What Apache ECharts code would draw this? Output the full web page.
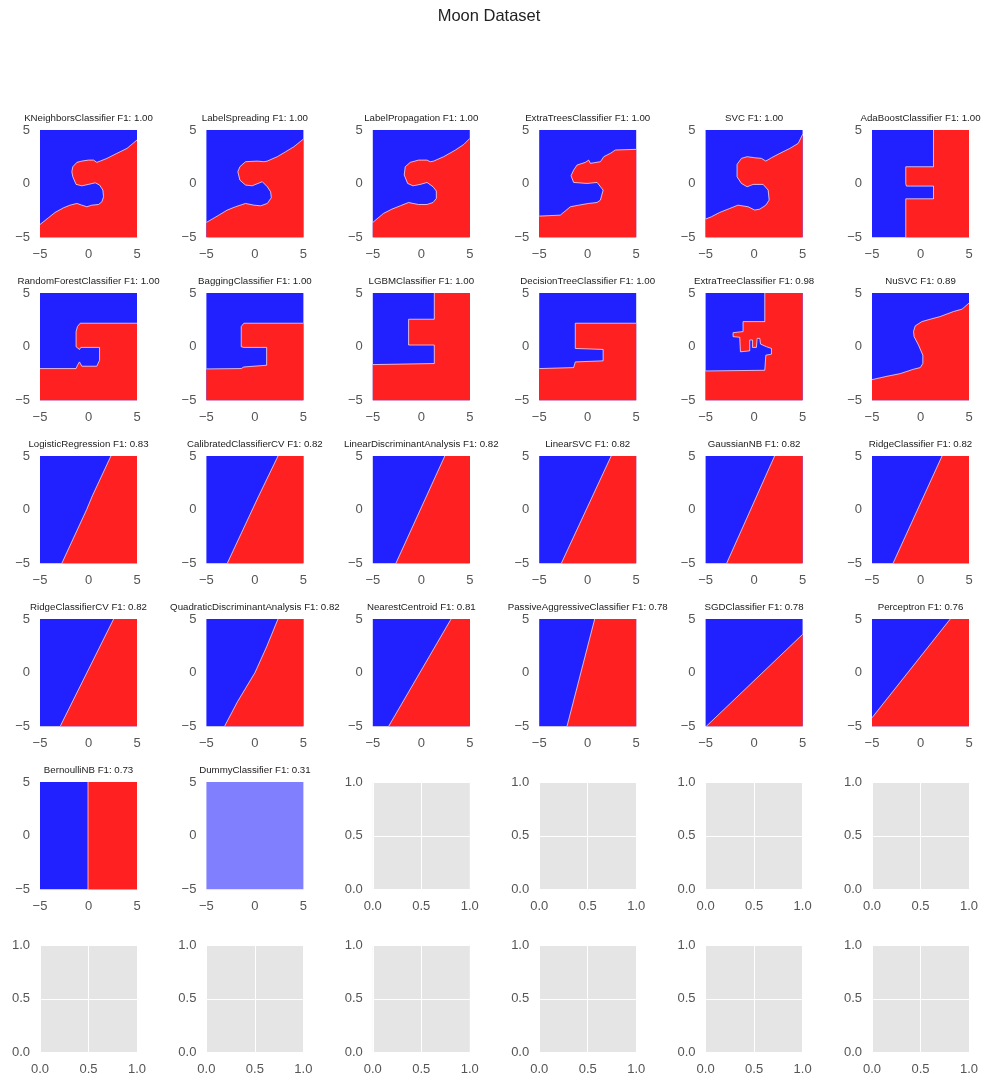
<!DOCTYPE html>
<html>
<head>
<meta charset="utf-8">
<script src="https://cdn.jsdelivr.net/npm/echarts@6/dist/echarts.min.js"></script>
<style>
  html, body { margin: 0; padding: 0; background: #ffffff; }
  #chart { width: 990px; height: 1087px; }
</style>
</head>
<body>
<div id="chart"></div>
<script>
// ---------------- DATA ----------------
const chartTitle = 'Moon Dataset';

const classifierNames = [
  'KNeighborsClassifier', 'LabelSpreading', 'LabelPropagation', 'ExtraTreesClassifier', 'SVC', 'AdaBoostClassifier',
  'RandomForestClassifier', 'BaggingClassifier', 'LGBMClassifier', 'DecisionTreeClassifier', 'ExtraTreeClassifier', 'NuSVC',
  'LogisticRegression', 'CalibratedClassifierCV', 'LinearDiscriminantAnalysis', 'LinearSVC', 'GaussianNB', 'RidgeClassifier',
  'RidgeClassifierCV', 'QuadraticDiscriminantAnalysis', 'NearestCentroid', 'PassiveAggressiveClassifier', 'SGDClassifier', 'Perceptron',
  'BernoulliNB', 'DummyClassifier'
];
const f1Scores = [
  1.00, 1.00, 1.00, 1.00, 1.00, 1.00,
  1.00, 1.00, 1.00, 1.00, 0.98, 0.89,
  0.83, 0.82, 0.82, 0.82, 0.82, 0.82,
  0.82, 0.82, 0.81, 0.78, 0.78, 0.76,
  0.73, 0.31
];

// decision-region axis range & ticks, empty-axis ticks
const regionTicks = [-5, 0, 5];
const emptyTicks = [0, 0.5, 1];

// class-boundary polylines (data coords); red region lies on the boundary's closing side
const bKNN = [[5,4.07],[3.97,3.29],[2.93,2.83],[1.9,2.36],[1.21,2.11],[0.86,1.99],[0.52,2.2],[0,2.2],[-0.69,2.11],[-1.2,1.99],[-1.62,1.58],[-1.72,1.12],[-1.62,0.65],[-1.28,-0.06],[-0.69,-0.19],[0,-0.06],[0.69,0.09],[1.14,-0.12],[1.48,-0.59],[1.55,-1.21],[1.38,-1.68],[1.03,-1.93],[0.34,-1.99],[-0.17,-2.14],[-0.69,-1.99],[-1.2,-1.83],[-1.9,-1.99],[-2.59,-2.24],[-3.45,-2.67],[-4.14,-3.17],[-5,-3.79]];
const bLabelSpreading = [[5,4.16],[4.03,3.45],[3.17,2.98],[2.31,2.52],[1.28,2.11],[0.93,2.05],[0.24,2.11],[-0.97,2.05],[-1.55,1.58],[-1.76,1.12],[-1.55,0.34],[-0.97,-0.12],[-0.28,-0.19],[0.76,0.19],[1.28,-0.28],[1.62,-0.75],[1.69,-1.3],[1.28,-1.83],[0.59,-2.05],[-0.1,-1.99],[-0.97,-1.83],[-2,-2.14],[-2.86,-2.45],[-3.72,-2.92],[-5,-3.6]];
const bLabelPropagation = [[5,4.22],[4.38,3.66],[3.52,3.14],[2.31,2.52],[1.28,2.11],[0.93,2.05],[0.59,2.2],[-0.28,2.2],[-1.14,1.99],[-1.66,1.58],[-1.76,0.81],[-1.41,0.03],[-0.86,-0.19],[-0.1,-0.06],[0.59,0.12],[1.21,-0.28],[1.55,-0.68],[1.55,-1.37],[1.21,-1.74],[0.59,-1.93],[-0.28,-1.93],[-0.86,-1.83],[-1.31,-1.74],[-2.17,-2.05],[-3.03,-2.36],[-3.9,-2.76],[-5,-3.6]];
const bExtraTrees = [[5,3.2],[2.86,3.14],[2.34,2.83],[1.66,2.52],[1.31,2.05],[0.28,1.9],[0.1,2.2],[-0.24,1.99],[-1.1,1.74],[-1.45,1.27],[-1.72,0.75],[-1.45,0.12],[-0.07,0.03],[0.97,0.12],[1.59,-0.59],[1.31,-1.52],[0.97,-1.74],[0.1,-1.83],[-0.93,-1.99],[-1.79,-2.14],[-2.83,-2.92],[-5,-3.01]];
const bSVC = [[5,4.6],[4.55,3.76],[3.69,3.29],[2.66,2.83],[1.79,2.42],[1.21,2.11],[0.76,2.36],[0.07,2.42],[-0.72,2.52],[-1.31,2.36],[-1.76,1.8],[-1.76,0.65],[-1.31,0.03],[-0.72,-0.28],[-0.1,-0.06],[0.93,-0.06],[1.45,-0.59],[1.55,-1.52],[1.21,-1.99],[0.59,-2.36],[0.07,-2.45],[-0.62,-2.14],[-1.66,-1.99],[-2.52,-2.3],[-3.55,-2.67],[-4.41,-3.07],[-5,-3.29]];
const bAdaBoost = [[1.34,5],[1.34,1.58],[-1.52,1.58],[-1.52,0.0],[-1.45,-0.22],[1.34,-0.22],[1.34,-1.4],[-1.52,-1.4],[-1.52,-5]];
const bRandomForest = [[5,2.19],[-0.86,2.19],[-1.14,1.88],[-1.28,1.41],[-1.28,0],[-0.93,-0.25],[-0.79,-0.06],[1.14,-0.06],[1.14,-1.25],[0.86,-1.81],[-0.69,-1.81],[-0.93,-1.41],[-1.14,-1.72],[-1.28,-2.03],[-5,-2.03]];
const bBagging = [[5,2.19],[-1.14,2.19],[-1.41,1.88],[-1.41,0],[-1.14,-0.06],[1.21,-0.06],[1.21,-1.72],[-1.14,-1.88],[-1.41,-2.03],[-5,-2.06]];
const bLGBM = [[1.34,5],[1.34,2.56],[-1.31,2.56],[-1.31,0.16],[1.34,0.16],[1.34,-1.56],[-5,-1.66]];
const bDecisionTree = [[5,2.19],[-1.28,2.19],[-1.28,-0.16],[1.59,-0.25],[1.59,-1.31],[-1.28,-1.41],[-1.45,-1.94],[-5,-2.03]];
const bExtraTree = [[1.1,5],[1.1,2.34],[-1.14,2.34],[-1.14,1.41],[-2.17,1.31],[-2.17,0.94],[-1.48,0.88],[-1.41,-0.47],[-0.45,-0.38],[-0.45,0.63],[-0.17,0.63],[-0.17,-0.06],[0.24,-0.06],[0.31,0.78],[0.59,0.78],[0.66,0.25],[1.28,0],[1.79,-0.16],[1.79,-0.69],[1.21,-0.78],[1.1,-2.19],[-5,-2.25]];
const bNuSVC = [[5,4.06],[4.28,3.5],[3.41,3.28],[2.03,2.81],[1,2.56],[0.14,2.34],[-0.55,1.94],[-0.72,1.41],[-0.66,0.94],[-0.21,0.16],[0.24,-0.78],[0.24,-1.56],[-0.03,-1.94],[-0.72,-2.09],[-2.1,-2.5],[-3.48,-2.75],[-5,-3.06]];
const bLogistic = [[2.31,5],[0.4,1.3],[-0.2,0],[-2.76,-5]];
const bCalibrated = [[2.38,5],[0.35,1.2],[-2.86,-5]];
const bLDA = [[2.42,5],[-2.63,-5]];
const bLinearSVC = [[2.42,5],[-2.73,-5]];
const bGaussianNB = [[2.11,5],[-2.84,-5]];
const bRidge = [[2.22,5],[-2.84,-5]];
const bRidgeCV = [[2.59,5],[-2.93,-5]];
const bQDA = [[2.38,5],[1.2,2.4],[0.0,0],[-1.8,-2.7],[-3.14,-5]];
const bNearestCentroid = [[3.07,5],[-3.38,-5]];
const bPassiveAggressive = [[0.72,5],[-2.14,-5]];
const bSGD = [[5,3.57],[-4.95,-5]];
const bPerceptron = [[3.07,5],[-5,-4.19]];
const bBernoulli = [[-0.05,5],[-0.05,-5]];
const bDummy = [];

const boundaries = [
  bKNN, bLabelSpreading, bLabelPropagation, bExtraTrees, bSVC, bAdaBoost,
  bRandomForest, bBagging, bLGBM, bDecisionTree, bExtraTree, bNuSVC,
  bLogistic, bCalibrated, bLDA, bLinearSVC, bGaussianNB, bRidge,
  bRidgeCV, bQDA, bNearestCentroid, bPassiveAggressive, bSGD, bPerceptron,
  bBernoulli, bDummy
];

// corners closing each red region
const cMoon = [[-5,-5],[5,-5]];
const cRight = [[5,-5],[5,5]];
const cWrap = [[-5,-5],[5,-5],[5,5]];
const cCorner = [[5,-5]];
const redCorners = [
  cMoon, cMoon, cMoon, cMoon, cMoon, cRight,
  cMoon, cMoon, cWrap, cMoon, cWrap, cMoon,
  cRight, cRight, cRight, cRight, cRight, cRight,
  cRight, cRight, cRight, cRight, cCorner, cWrap,
  cRight, []
];
// base (blue-class) colour per panel; Dummy predicts a flat mid value
const baseKind = [
  'b','b','b','b','b','b','b','b','b','b','b','b','b',
  'b','b','b','b','b','b','b','b','b','b','b','b','m'
];

// ---------------- LAYOUT / STYLE ----------------
const COLS = 6, ROWS = 6;
const colLeft0 = 40, colStep = 166.4, rowTop0 = 130, rowStep = 163;
const panelW = 97, panelH = 107.5;
const BLUE = '#2121ff', RED = '#ff2121', MID = '#8080ff';
const FONT = 'Liberation Sans, Arial, sans-serif';

function fmtRegion(v) { return v < 0 ? '\u2212' + Math.abs(v) : String(v); }
function fmtEmpty(v) { return v.toFixed(1); }

const grids = [], xAxes = [], yAxes = [], series = [], titles = [];

titles.push({
  text: chartTitle, left: 489, top: 8, textAlign: 'center', padding: 0,
  textStyle: { fontSize: 16.5, fontWeight: 'normal', color: '#222222', fontFamily: FONT }
});

function makeRender(i) {
  const lo = regionTicks[0], hi = regionTicks[regionTicks.length - 1];
  const full = [[lo, lo], [hi, lo], [hi, hi], [lo, hi]];
  const bnd = boundaries[i];
  const poly = bnd.concat(redCorners[i]);
  const base = baseKind[i] === 'm' ? MID : BLUE;
  return function (params, api) {
    if (params.dataIndex !== 0) return null;
    const children = [{
      type: 'polygon', shape: { points: full.map(p => api.coord(p)) },
      style: { fill: base }
    }];
    if (bnd.length) {
      children.push({ type: 'polygon', shape: { points: poly.map(p => api.coord(p)) }, style: { fill: RED } });
      children.push({
        type: 'polyline', shape: { points: bnd.map(p => api.coord(p)) },
        style: { stroke: 'rgba(255,255,255,0.75)', lineWidth: 0.9, fill: null }
      });
    }
    return { type: 'group', children: children };
  };
}

for (let r = 0; r < ROWS; r++) {
  for (let c = 0; c < COLS; c++) {
    const i = r * COLS + c;
    const left = colLeft0 + c * colStep;
    const top = rowTop0 + r * rowStep;
    const filled = i < classifierNames.length;
    grids.push({
      left: left, top: top, width: panelW, height: panelH,
      show: !filled, backgroundColor: '#e5e5e5', borderWidth: 0
    });
    const ticks = filled ? regionTicks : emptyTicks;
    const axisCommon = {
      gridIndex: i, type: 'value',
      min: ticks[0], max: ticks[ticks.length - 1], interval: ticks[1] - ticks[0],
      axisLine: { show: false }, axisTick: { show: false },
      splitLine: { show: !filled, lineStyle: { color: '#ffffff', width: 1 } },
      axisLabel: {
        formatter: filled ? fmtRegion : fmtEmpty,
        color: '#555555', fontSize: 13, fontFamily: FONT, margin: 10
      }
    };
    xAxes.push(Object.assign({}, axisCommon));
    yAxes.push(Object.assign({}, axisCommon));
    if (filled) {
      titles.push({
        text: classifierNames[i] + ' F1: ' + f1Scores[i].toFixed(2),
        left: left + panelW / 2, top: top - 17, textAlign: 'center', padding: 0,
        textStyle: { fontSize: 9.7, fontWeight: 'normal', color: '#222222', fontFamily: FONT }
      });
      const pts = boundaries[i].length ? boundaries[i] : [[regionTicks[0], regionTicks[0]]];
      series.push({
        type: 'custom', xAxisIndex: i, yAxisIndex: i, silent: true,
        renderItem: makeRender(i), data: pts, clip: true
      });
    }
  }
}

const chart = echarts.init(document.getElementById('chart'), null, { renderer: 'canvas' });
chart.setOption({
  animation: false,
  backgroundColor: '#ffffff',
  title: titles,
  grid: grids,
  xAxis: xAxes,
  yAxis: yAxes,
  series: series
});
</script>
</body>
</html>
